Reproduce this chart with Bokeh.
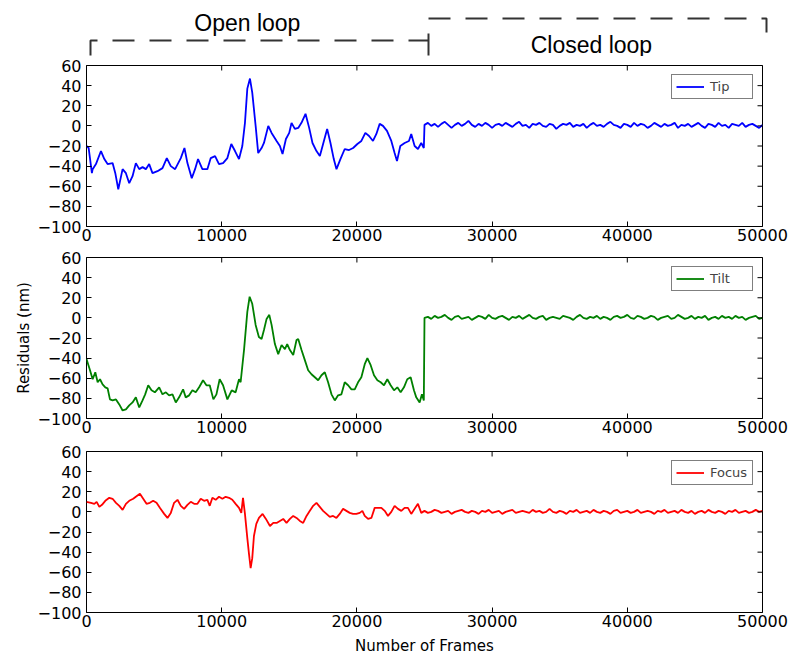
import math
from bokeh.plotting import figure
from bokeh.layouts import column
from bokeh.models import Range1d, FixedTicker
from bokeh.core.properties import value
from bokeh.embed import file_html
from bokeh.resources import INLINE

# ---------------- data ----------------
x_ticks = [0, 10000, 20000, 30000, 40000, 50000]
x_tick_labels = ["0", "10000", "20000", "30000", "40000", "50000"]
y_ticks = [-100, -80, -60, -40, -20, 0, 20, 40, 60]
y_tick_labels = ["\u2212100", "\u221280", "\u221260", "\u221240", "\u221220", "0", "20", "40", "60"]

loop_switch_frame = 25000
closed_step = 250
phase_labels = ["Open loop", "Closed loop"]

tip_open_frames = [0, 160, 400, 455, 700, 1070, 1320, 1560, 1930, 2130, 2350, 2670, 2915, 3160, 3405,
                   3650, 3900, 4145, 4390, 4635, 4880, 5250, 5620, 5940, 6235, 6555, 6975, 7245, 7465,
                   7785, 8030, 8250, 8570, 8940, 9190, 9510, 9800, 10100, 10420, 10710, 10985, 11280,
                   11525, 11720, 11895, 12090, 12260, 12510, 12700, 12950, 13125, 13445, 13690, 14060,
                   14305, 14500, 14750, 14995, 15165, 15410, 15660, 15900, 16200, 16470, 16715, 17010,
                   17260, 17500, 17800, 18045, 18290, 18490, 18780, 19100, 19420, 19720, 20035, 20330,
                   20625, 20900, 21190, 21440, 21685, 21930, 22225, 22545, 22790, 22965, 23210, 23530,
                   23850, 24020, 24270, 24515, 24760, 24950]
tip_open_vals = [-20, -22, -47, -43, -38, -25, -33, -38, -37, -47, -63, -43, -47, -57, -50, -37, -43,
                 -41, -43, -38, -47, -45, -42, -32, -40, -43, -32, -22, -37, -52, -43, -33, -43, -43,
                 -32, -30, -38, -37, -32, -18, -25, -33, -20, 3, 37, 47, 33, 0, -27, -22, -17, 0, -7,
                 -15, -20, -28, -13, -7, 3, -3, -2, 3, 12, -2, -17, -25, -30, -18, -3, -17, -33, -43,
                 -33, -23, -24, -22, -18, -15, -7, -10, -15, -8, 2, 0, -5, -15, -27, -35, -20, -17,
                 -15, -8, -20, -23, -17, -22]
tip_closed_vals = [1, 3, 0, 2, -1, 2, 4, 1, -2, 1,
                   3, 0, 2, 5, 1, -1, 2, 0, 3, 1,
                   -2, 1, 2, 0, 3, 1, -1, 2, 4, 0,
                   1, -2, 2, 1, 3, 0, -1, 2, 1, -3,
                   0, 2, 1, 3, -1, 1, 0, 2, -2, 1,
                   3, 0, 1, -1, 2, 4, 1, 0, -2, 2,
                   1, -1, 3, 0, 2, 1, -2, 0, 3, 1,
                   -1, 2, 0, 1, 3, -2, 1, 0, 2, -1,
                   1, 3, 0, -2, 2, 1, -1, 3, 0, 1,
                   -2, 2, 1, 0, 3, -1, 1, 2, 0, -2,
                   1]

tilt_open_frames = [0, 260, 455, 650, 825, 1000, 1190, 1390, 1560, 1735, 1930, 2180, 2425, 2670, 2915,
                    3160, 3405, 3650, 3900, 4145, 4340, 4565, 4810, 5055, 5375, 5620, 5870, 6110, 6360,
                    6605, 6850, 7145, 7340, 7590, 7835, 8080, 8330, 8620, 8870, 9115, 9385, 9610, 9850,
                    10100, 10420, 10740, 11030, 11280, 11400, 11650, 11895, 12065, 12260, 12510, 12750,
                    12950, 13125, 13320, 13520, 13690, 13935, 14180, 14430, 14675, 14845, 15045, 15290,
                    15535, 15660, 15905, 16150, 16395, 16640, 16890, 17135, 17380, 17625, 17870, 18120,
                    18365, 18610, 18855, 19100, 19350, 19595, 19840, 20085, 20330, 20580, 20775, 21020,
                    21265, 21515, 21760, 22005, 22250, 22495, 22745, 22990, 23235, 23480, 23725, 23975,
                    24220, 24390, 24640, 24810, 24950]
tilt_open_vals = [-41, -52, -61, -54, -64, -61, -66, -69, -70, -81, -82, -81, -86, -92, -91, -87, -84,
                  -79, -89, -82, -76, -67, -72, -74, -69, -76, -74, -77, -76, -84, -79, -71, -79, -77,
                  -72, -74, -69, -62, -67, -67, -81, -76, -61, -67, -81, -72, -74, -61, -64, -32, 6, 21,
                  14, -7, -19, -21, -12, -1, 3, -7, -26, -36, -27, -31, -26, -32, -37, -22, -21, -32,
                  -42, -52, -56, -59, -62, -57, -54, -64, -76, -82, -77, -76, -64, -67, -71, -71, -64,
                  -59, -46, -40, -47, -57, -62, -64, -67, -61, -67, -72, -69, -74, -69, -61, -59, -72,
                  -79, -84, -76, -82]
tilt_closed_vals = [0, 1, -1, 2, 0, 1, 3, 0, -2, 1,
                    2, -1, 0, 1, -2, 0, 2, 1, -1, 3,
                    0, -1, 1, 2, 0, -2, 1, 0, 2, -1,
                    1, 3, 0, -1, 1, 2, -2, 0, 1, 0,
                    -1, 2, 1, 0, -2, 1, 3, 0, -1, 1,
                    0, 2, -1, 1, 0, -2, 1, 2, 0, 1,
                    3, 0, -1, 2, 1, -1, 0, 2, 1, -2,
                    0, 1, 2, -1, 0, 3, 1, -1, 0, 2,
                    -1, 1, 0, 2, -2, 0, 1, -1, 2, 0,
                    1, -1, 2, 0, 1, -2, 0, 1, 2, -1,
                    0]

focus_open_frames = [0, 330, 580, 750, 950, 1145, 1390, 1685, 1930, 2180, 2425, 2670, 2915, 3160, 3455,
                     3650, 3950, 4195, 4440, 4685, 4930, 5180, 5425, 5745, 5990, 6235, 6480, 6730, 6975,
                     7220, 7465, 7710, 7960, 8205, 8450, 8695, 8940, 9115, 9310, 9555, 9800, 10050,
                     10295, 10540, 10785, 11030, 11280, 11450, 11575, 11720, 11895, 12020, 12140, 12260,
                     12385, 12560, 12755, 13025, 13270, 13570, 13815, 14060, 14305, 14550, 14795, 15045,
                     15290, 15535, 15780, 16025, 16275, 16520, 16765, 17010, 17255, 17500, 17750, 17995,
                     18240, 18485, 18730, 18980, 19225, 19470, 19715, 19960, 20210, 20405, 20580, 20825,
                     21070, 21315, 21560, 21810, 22055, 22300, 22545, 22790, 23040, 23285, 23530, 23775,
                     24020, 24270, 24515, 24760]
focus_open_vals = [10, 9, 8, 10, 5, 7, 11, 14, 13, 9, 6, 2, 8, 11, 13, 15, 18, 13, 8, 9, 11, 9, 4, -2,
                   -6, -1, 9, 12, 6, 3, 7, 10, 8, 8, 13, 11, 12, 6, 14, 12, 15, 13, 15, 14, 12, 8, 4,
                   -1, 14, -2, -26, -42, -56, -46, -24, -12, -6, -2, -7, -14, -11, -11, -9, -7, -11, -7,
                   -4, -6, -9, -11, -4, 1, 6, 9, 5, 1, -2, -5, -4, -6, -2, 3, 1, -1, -2, -2, -1, 1, -4,
                   -7, -6, 4, 4, 4, 1, -4, 0, 6, 3, 1, 4, 4, -2, 3, 8, -1]
focus_closed_vals = [1, -1, 0, 2, 1, -1, 0, 1, -2, 0,
                     1, 2, 0, -1, 1, 0, -2, 1, 0, 2,
                     -1, 0, 1, -2, 0, 1, 2, -1, 0, 1,
                     0, -1, 2, 0, 1, -1, 0, 3, 0, -1,
                     1, 0, -2, 1, 0, 2, -1, 0, 1, -1,
                     2, 0, -1, 1, 0, -2, 1, 2, -1, 0,
                     1, -1, 0, 2, -1, 0, 1, 0, -2, 1,
                     0, 2, -1, 0, 1, -1, 2, 0, -1, 1,
                     -2, 0, 1, -1, 2, 0, -1, 1, 0, -2,
                     1, 0, 2, -1, 0, 1, -1, 0, 2, 0,
                     1]

series_names = ["Tip", "Tilt", "Focus"]
series_colors = ["#0000ff", "#008000", "#ff0000"]


def series(open_frames, open_vals, closed_vals):
    xs = list(open_frames) + [loop_switch_frame + closed_step * i for i in range(len(closed_vals))]
    ys = list(open_vals) + list(closed_vals)
    return xs, ys


# ---------------- layout constants ----------------
FONT = "DejaVu Sans"
LEFT = 86
FRAME_W = 676
RIGHT = 30
FRAME_H = 161
X_END = x_ticks[-1]
tick_overrides_x = dict(zip(x_ticks, x_tick_labels))
tick_overrides_y = dict(zip(y_ticks, y_tick_labels))


def style_axis(ax, ticks, overrides, standoff):
    ax.ticker = FixedTicker(ticks=ticks)
    ax.major_tick_in = 5
    ax.major_tick_out = 0
    ax.minor_tick_line_color = None
    ax.major_tick_line_color = "black"
    ax.axis_line_color = None
    ax.major_label_overrides = overrides
    ax.major_label_text_font = FONT
    ax.major_label_text_font_size = "16px"
    ax.major_label_text_color = "black"
    ax.major_label_standoff = standoff


def panel(xs, ys, color, name, top, bottom, ylabel=None, xlabel=None):
    p = figure(frame_width=FRAME_W, frame_height=FRAME_H,
               x_range=Range1d(0, X_END), y_range=Range1d(y_ticks[0], y_ticks[-1]),
               output_backend="svg", toolbar_location=None,
               min_border_left=LEFT, min_border_right=RIGHT,
               min_border_top=top, min_border_bottom=bottom)
    p.line(xs, ys, line_color=color, line_width=1.8, legend_label=name)
    p.grid.visible = False
    p.outline_line_color = "black"
    p.outline_line_width = 1
    style_axis(p.below[0], x_ticks, tick_overrides_x, 2)
    style_axis(p.left[0], y_ticks, tick_overrides_y, 5)
    # inward tick marks on the top and right edges (half of each dash is clipped by the frame)
    p.scatter(x=x_ticks, y=[y_ticks[-1]] * len(x_ticks), marker="dash", angle=math.pi / 2,
              size=10, line_color="black", line_width=1)
    p.scatter(x=[X_END] * len(y_ticks), y=y_ticks, marker="dash",
              size=10, line_color="black", line_width=1)
    if ylabel:
        ax = p.left[0]
        ax.axis_label = ylabel
        ax.axis_label_text_font = FONT
        ax.axis_label_text_font_size = "15px"
        ax.axis_label_text_font_style = "normal"
        ax.axis_label_text_color = "black"
        ax.axis_label_standoff = 2
    if xlabel:
        ax = p.below[0]
        ax.axis_label = xlabel
        ax.axis_label_text_font = FONT
        ax.axis_label_text_font_size = "15px"
        ax.axis_label_text_font_style = "normal"
        ax.axis_label_text_color = "black"
        ax.axis_label_standoff = 7
    lg = p.legend[0]
    lg.location = "top_right"
    lg.label_text_font = FONT
    lg.label_text_font_size = "13px"
    lg.border_line_color = "black"
    lg.border_line_width = 1
    lg.padding = 4
    lg.spacing = 0
    lg.margin = 9
    lg.glyph_width = 28
    lg.glyph_height = 13
    lg.label_height = 13
    lg.label_width = 38
    lg.label_standoff = 6
    lg.background_fill_alpha = 1
    return p


# ---------------- annotation strip (open / closed loop brackets) ----------------
ANN_H = 56
pad_px = 4
pad_frames = X_END * pad_px / FRAME_W
ann = figure(frame_width=FRAME_W + 2 * pad_px, frame_height=ANN_H,
             x_range=Range1d(-pad_frames, X_END + pad_frames), y_range=Range1d(ANN_H, 0),
             output_backend="svg", toolbar_location=None,
             x_axis_location=None, y_axis_location=None,
             min_border_left=LEFT - pad_px, min_border_right=RIGHT - pad_px,
             min_border_top=0, min_border_bottom=0)
ann.outline_line_color = None
for g in ann.grid:
    g.visible = False
ann.multi_line(xs=[[0, 0, loop_switch_frame], [loop_switch_frame, loop_switch_frame, X_END, X_END]],
               ys=[[55, 40, 40], [55, 18, 18, 32]],
               line_color="#333333", line_width=2, line_dash="22 15")
ann.text(x=[11600, 37050], y=[22, 44], text=phase_labels,
         text_font=value("Liberation Sans"), text_font_size="23px",
         text_align="center", text_baseline="alphabetic", text_color="black")

tip_x, tip_y = series(tip_open_frames, tip_open_vals, tip_closed_vals)
tilt_x, tilt_y = series(tilt_open_frames, tilt_open_vals, tilt_closed_vals)
focus_x, focus_y = series(focus_open_frames, focus_open_vals, focus_closed_vals)

p1 = panel(tip_x, tip_y, series_colors[0], series_names[0], top=9, bottom=21)
p2 = panel(tilt_x, tilt_y, series_colors[1], series_names[1], top=10, bottom=21, ylabel="Residuals (nm)")
p3 = panel(focus_x, focus_y, series_colors[2], series_names[2], top=12, bottom=46, xlabel="Number of Frames")

layout = column(ann, p1, p2, p3, spacing=0)

with open("out.html", "w") as f:
    f.write(file_html(layout, INLINE))
